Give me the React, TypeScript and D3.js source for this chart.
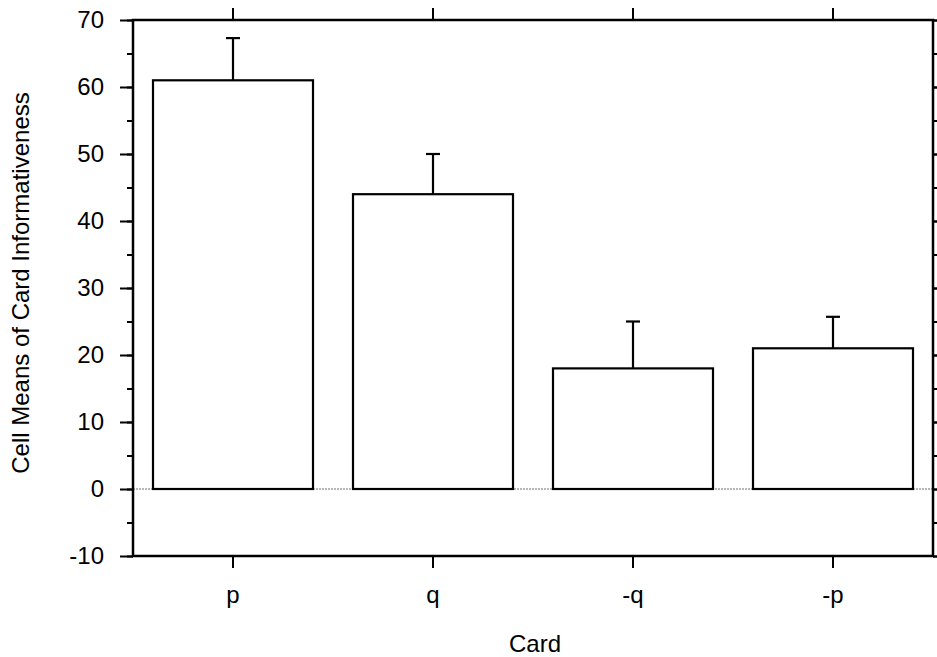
import { useEffect, useRef } from "react";
import * as d3 from "d3";

const cards = ["p", "q", "-q", "-p"];
const means = [61, 44, 18, 21];
const errors = [6.3, 6, 7, 4.7];
const yTicks = [-10, 0, 10, 20, 30, 40, 50, 60, 70];

const W = 937,
  H = 657;
const margin = { top: 20, right: 4, bottom: 101, left: 133 };

const App = () => {
  const ref = useRef<SVGSVGElement>(null);

  useEffect(() => {
    const svg = d3.select(ref.current);
    svg.selectAll("*").remove();
    const width = W - margin.left - margin.right;
    const height = H - margin.top - margin.bottom;
    const font = "'Liberation Sans', Arial, Helvetica, sans-serif";
    const fs = 24;

    const x = d3.scaleBand().domain(cards).range([0, width]).paddingInner(0.2).paddingOuter(0.1);
    const y = d3.scaleLinear().domain([-10, 70]).range([height, 0]);

    const g = svg
      .append("g")
      .attr("transform", `translate(${margin.left},${margin.top})`);

    // zero line
    g.append("line")
      .attr("x1", 0)
      .attr("x2", width)
      .attr("y1", y(0))
      .attr("y2", y(0))
      .attr("stroke", "#a0a0a0")
      .attr("stroke-width", 1.5)
      .attr("stroke-dasharray", "2,1");

    // error bars
    const eb = g.append("g").attr("stroke", "#000").attr("stroke-width", 2.2);
    cards.forEach((c, i) => {
      const cx = (x(c) as number) + x.bandwidth() / 2;
      eb.append("line")
        .attr("x1", cx)
        .attr("x2", cx)
        .attr("y1", y(means[i]))
        .attr("y2", y(means[i] + errors[i]));
      eb.append("line")
        .attr("x1", cx - 7)
        .attr("x2", cx + 7)
        .attr("y1", y(means[i] + errors[i]))
        .attr("y2", y(means[i] + errors[i]));
    });

    // bars
    g.selectAll("rect.bar")
      .data(cards)
      .enter()
      .append("rect")
      .attr("class", "bar")
      .attr("x", (d) => x(d) as number)
      .attr("width", x.bandwidth())
      .attr("y", (d, i) => y(means[i]))
      .attr("height", (d, i) => y(0) - y(means[i]))
      .attr("fill", "#fff")
      .attr("stroke", "#000")
      .attr("stroke-width", 2.2);

    // axes
    const minor = d3.range(-10, 71, 5);
    g.append("g").call(
      d3.axisLeft(y).tickValues(minor).tickSize(6).tickFormat(() => "")
    );
    g.append("g")
      .call(
        d3
          .axisLeft(y)
          .tickValues(yTicks)
          .tickSize(13)
          .tickPadding(16)
          .tickFormat((d) => String(d))
      )
      .call((a) =>
        a
          .selectAll("text")
          .attr("font-family", font)
          .attr("font-size", fs)
          .attr("fill", "#000")
      );
    g.append("g")
      .attr("transform", `translate(${width},0)`)
      .call(d3.axisRight(y).tickValues(minor).tickSize(6).tickFormat(() => ""));
    g.append("g")
      .attr("transform", `translate(${width},0)`)
      .call(d3.axisRight(y).tickValues(yTicks).tickSize(13).tickFormat(() => ""));
    g.append("g")
      .call(d3.axisTop(x).tickSize(12).tickFormat(() => ""));
    g.append("g")
      .attr("transform", `translate(0,${height})`)
      .call(d3.axisBottom(x).tickSize(12).tickPadding(18))
      .call((a) =>
        a
          .selectAll("text")
          .attr("font-family", font)
          .attr("font-size", fs)
          .attr("fill", "#000")
      );
    g.selectAll(".domain").remove();
    g.selectAll(".tick line").attr("stroke", "#000").attr("stroke-width", 2);

    // frame
    g.append("rect")
      .attr("width", width)
      .attr("height", height)
      .attr("fill", "none")
      .attr("stroke", "#000")
      .attr("stroke-width", 2.5);

    // titles
    svg
      .append("text")
      .attr("x", margin.left + width / 2 + 2)
      .attr("y", 652)
      .attr("text-anchor", "middle")
      .attr("font-family", font)
      .attr("font-size", fs)
      .text("Card");
    svg
      .append("text")
      .attr("transform", `translate(29,${margin.top + height / 2 - 5}) rotate(-90)`)
      .attr("text-anchor", "middle")
      .attr("font-family", font)
      .attr("font-size", fs)
      .text("Cell Means of Card Informativeness");
  }, []);

  return (
    <svg
      ref={ref}
      width={W}
      height={H}
      style={{ position: "absolute", left: 0, top: 0, background: "#fff" }}
    ></svg>
  );
};

export default App;
